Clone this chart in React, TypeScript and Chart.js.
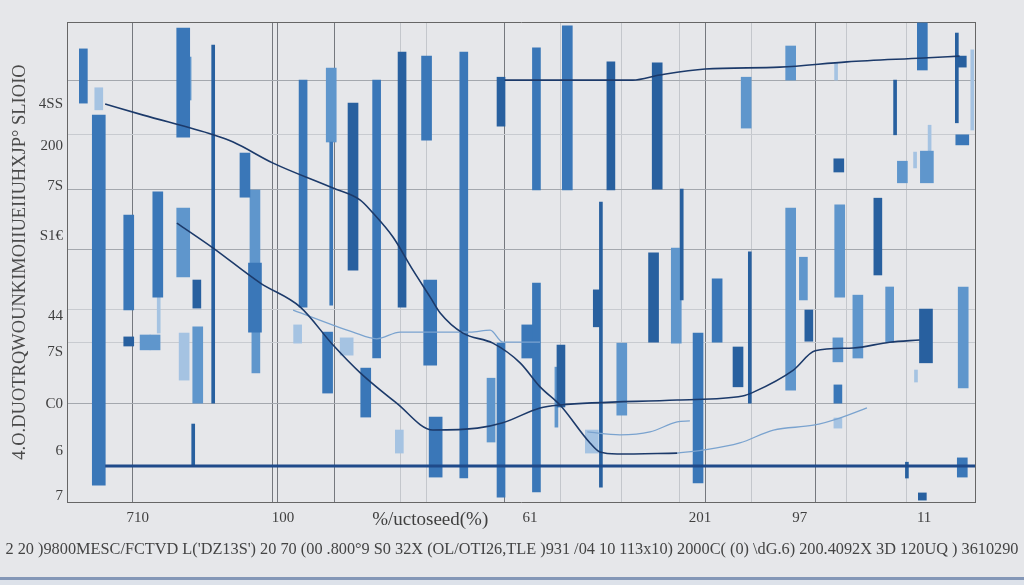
import React, { useEffect, useRef } from "react";
import { Chart, registerables } from "chart.js";

Chart.register(...registerables);

const FONT = "'Liberation Serif', 'DejaVu Serif', serif";

// Axis labels
const xTickValues = [7.8, 23.8, 40.0, 51.0, 69.7, 80.7, 94.4];
const xTickLabels = ["710", "100", "%/uctoseed(%)", "61", "201", "97", "11"];
const yTickValues = [1.25, 10.6, 20.4, 31.25, 38.75, 55.4, 65.8, 74.2, 82.9];
const yTickLabels = ["7", "6", "C0", "7S", "44", "S1€", "7S", "200", "4SS"];
const yTitle = "4.O.DUOTRQWOUNKIMOIIUEIIUHXJP° SLIOIO";
const bottomTitle =
  "2 20 )9800MESC/FCTVD L('DZ13S') 20 70 (00 .800°9 S0 32X (OL/OTI26,TLE )931 /04 10 113x10) 2000C( (0) \\dG.6) 200.4092X 3D 120UQ ) 3610290";

// Grid line positions
const xGridMajor = [7.2, 22.6, 23.2, 29.5, 48.2, 70.3, 82.4];
const xGridMinor = [36.7, 39.6, 54.3, 61.1, 67.5, 75.4, 85.9, 92.5];
const yGridMajor = [20.6, 52.7, 65.2, 87.9];
const yGridMinor = [33.3, 40.2, 76.5];

// Floating bars: [x, low, high]
const darkThin = [[16.1, 20.6, 95.2], [58.8, 3.1, 62.5], [98.0, 79.0, 97.7], [92.5, 5.0, 8.3], [13.9, 7.5, 16.25], [67.7, 42.1, 65.2], [91.2, 76.5, 87.9], [75.2, 20.6, 52.1]];
const darkNarrow = [[14.3, 40.4, 46.25], [36.9, 40.6, 93.75], [47.8, 78.3, 88.5], [59.9, 65.0, 91.7], [54.4, 19.8, 32.7], [81.7, 33.5, 40.0], [89.3, 47.3, 63.3], [98.6, 90.6, 92.9], [94.2, 0.4, 1.9], [58.4, 36.5, 44.2]];
const darkMedium = [[6.8, 32.5, 34.4], [31.5, 48.3, 83.1], [65.0, 65.2, 91.5], [64.6, 33.3, 51.9], [73.9, 24.0, 32.3], [85.0, 68.75, 71.5]];
const darkWide = [[94.6, 29.0, 40.2]];

const midThin = [[29.1, 41.0, 75.0]];
const midNarrow = [[1.8, 83.1, 94.4], [26.0, 40.6, 87.9], [34.1, 30.0, 87.9], [43.7, 5.0, 93.75], [51.7, 65.0, 94.6], [47.8, 1.0, 33.1], [51.7, 2.1, 45.6], [84.9, 20.6, 24.4]];
const midMedium = [[6.8, 40.0, 59.8], [10.0, 42.7, 64.6], [19.6, 63.5, 72.7], [39.6, 75.4, 92.9], [32.9, 17.7, 27.9], [28.7, 22.7, 35.4], [55.1, 65.0, 99.2], [69.5, 4.0, 35.2], [71.6, 33.3, 46.5], [94.2, 90.0, 99.8], [98.6, 5.2, 9.2]];
const midWide = [[3.5, 3.5, 80.6], [12.8, 76.0, 98.75], [20.7, 35.4, 49.8], [40.0, 28.5, 46.25], [40.6, 5.2, 17.7], [50.8, 30.0, 36.9], [98.6, 74.4, 76.5]];

const lightThin = [[13.5, 83.75, 92.7], [53.9, 15.6, 28.1]];
const lightNarrow = [[20.8, 26.9, 35.4], [46.7, 12.5, 25.8], [81.1, 42.1, 51.0], [90.6, 33.3, 44.8]];
const lightMedium = [[8.6, 31.7, 34.8], [9.7, 31.7, 34.8], [14.4, 20.6, 36.5], [20.7, 49.8, 65.0], [29.1, 75.0, 90.4], [74.8, 77.9, 88.5], [79.7, 87.9, 95.0], [61.1, 18.1, 33.1], [67.1, 33.1, 52.9], [79.7, 23.3, 61.25], [85.1, 42.7, 61.9], [87.1, 30.0, 43.1], [84.9, 29.2, 34.2], [92.0, 66.5, 71.0], [98.7, 23.75, 44.8]];
const lightWide = [[12.8, 46.9, 61.25], [94.7, 66.5, 73.1]];

const paleThin = [[10.1, 35.2, 42.7], [93.4, 69.6, 72.9], [95.0, 72.9, 78.5], [93.5, 25.0, 27.5], [84.7, 87.9, 91.5], [99.7, 77.5, 94.2]];
const paleNarrow = [[3.5, 81.7, 86.3], [36.6, 10.2, 15.0], [25.4, 33.1, 36.9], [84.9, 15.4, 17.5]];
const paleMedium = [[12.9, 25.4, 35.2]];
const paleWide = [[30.8, 30.6, 34.2], [57.8, 10.2, 15.0]];

// Lines: [x, y]
const lineA = [[12.1, 58.1], [16.1, 52.9], [21.3, 45.6], [25.7, 40.6], [29.3, 32.7], [32.3, 26.9], [36.3, 20.6], [40.3, 15.0], [45.2, 15.4], [48.0, 16.5], [52.1, 19.6], [54.3, 20.2], [67.2, 21.25], [74.4, 22.1], [75.6, 22.9], [80.0, 27.5], [82.4, 31.5], [86.6, 32.1], [90.6, 33.3], [93.9, 33.75]];
const lineB = [[4.2, 82.9], [8.4, 80.6], [16.1, 76.5], [18.3, 75.0], [22.7, 70.6], [29.3, 65.4], [32.3, 62.9], [33.7, 60.2], [35.9, 55.2], [38.1, 48.3], [40.0, 42.7], [41.1, 39.4], [43.6, 35.2], [46.9, 33.1], [49.9, 29.0], [52.1, 24.0], [54.3, 20.2], [57.6, 12.3], [58.7, 10.4], [60.6, 10.0], [67.2, 10.2]];
const lineC = [[24.9, 40.0], [31.5, 35.4], [34.1, 34.0], [36.7, 35.4], [44.4, 35.4], [46.6, 35.8], [48.0, 33.3], [52.1, 33.3]];
const lineD = [[57.3, 14.6], [60.9, 14.0], [64.2, 14.6], [67.2, 16.7], [68.6, 16.9]];
const lineE = [[67.2, 10.2], [70.0, 10.8], [74.1, 12.3], [77.8, 15.0], [82.2, 16.0], [85.1, 17.5], [88.1, 19.6]];
const lineF = [[48.2, 87.9], [62.3, 87.9], [65.3, 88.96], [70.3, 90.2], [78.5, 90.6], [85.9, 91.7], [94.3, 92.5], [98.3, 92.9]];
const lineG = [[4.2, 7.5], [100, 7.5]];

const NAVY = "#1c3a6a";
const LIGHTLINE = "#7aa3cf";
const DARK = "#28609f";
const MID = "#3a77b8";
const LIGHT = "#5f96cc";
const PALE = "#a5c3e2";

function barSet(rows: number[][], color: string, thickness: number) {
  return {
    type: "bar" as const,
    data: rows.map(([x, lo, hi]) => ({ x, y: [lo, hi] })),
    backgroundColor: color,
    barThickness: thickness,
    grouped: false,
    borderWidth: 0,
  };
}

function lineSet(rows: number[][], color: string, width: number) {
  return {
    type: "line" as const,
    data: rows.map(([x, y]) => ({ x, y })),
    borderColor: color,
    borderWidth: width,
    pointRadius: 0,
    fill: false,
    cubicInterpolationMode: "monotone" as const,
  };
}

export default function App() {
  const ref = useRef<HTMLCanvasElement | null>(null);

  useEffect(() => {
    document.body.style.margin = "0";
    document.body.style.background = "#e6e7ea";
    if (!ref.current) return;
    const datasets: any[] = [
      lineSet(lineG, "#1f4a8a", 3),
      lineSet(lineA, NAVY, 1.6),
      lineSet(lineB, NAVY, 1.6),
      lineSet(lineF, NAVY, 1.6),
      lineSet(lineC, LIGHTLINE, 1.3),
      lineSet(lineD, LIGHTLINE, 1.3),
      lineSet(lineE, LIGHTLINE, 1.3),
      barSet(darkThin, DARK, 3),
      barSet(darkNarrow, DARK, 8),
      barSet(darkMedium, DARK, 10),
      barSet(darkWide, DARK, 13),
      barSet(midThin, MID, 3),
      barSet(midNarrow, MID, 8),
      barSet(midMedium, MID, 10),
      barSet(midWide, MID, 13),
      barSet(lightThin, LIGHT, 3),
      barSet(lightNarrow, LIGHT, 8),
      barSet(lightMedium, LIGHT, 10),
      barSet(lightWide, LIGHT, 13),
      barSet(paleThin, PALE, 3),
      barSet(paleNarrow, PALE, 8),
      barSet(paleMedium, PALE, 10),
      barSet(paleWide, PALE, 13),
    ];
    const xGridAll = [...xGridMajor, ...xGridMinor].sort((a, b) => a - b);
    const yGridAll = [...yGridMajor, ...yGridMinor].sort((a, b) => a - b);

    const chart = new Chart(ref.current, {
      type: "bar",
      data: { datasets },
      options: {
        animation: false,
        responsive: false,
        devicePixelRatio: 1,
        layout: { padding: { top: 22, right: 0, left: 0, bottom: 0 } },
        plugins: {
          legend: { display: false },
          tooltip: { enabled: false },
          title: {
            display: true,
            position: "bottom",
            text: bottomTitle,
            color: "#444",
            font: { family: FONT, size: 16.3, weight: "normal", lineHeight: 1.2 },
            padding: { top: 0, bottom: 25.2 },
          },
        },
        scales: {
          x: {
            type: "linear",
            position: "bottom",
            min: 0,
            max: 100,
            offset: false,
            afterBuildTicks: (a: any) => {
              a.ticks = xTickValues.map((v) => ({ value: v }));
            },
            afterFit: (a: any) => {
              a.height = 38.2;
            },
            ticks: {
              autoSkip: false,
              maxRotation: 0,
              padding: 7,
              color: "#3f3f3f",
              font: (ctx: any) =>
                ctx.index === 2 ? { family: FONT, size: 19 } : { family: FONT, size: 15 },
              callback: (_v: any, i: number) => xTickLabels[i],
            },
            grid: { display: false, drawTicks: false, offset: false },
            border: { display: true, color: "#666", width: 1 },
          },
          y: {
            type: "linear",
            position: "left",
            min: 0,
            max: 100,
            afterBuildTicks: (a: any) => {
              a.ticks = yTickValues.map((v) => ({ value: v }));
            },
            afterFit: (a: any) => {
              a.width = 67;
            },
            ticks: {
              autoSkip: false,
              padding: 4,
              color: "#3f3f3f",
              font: { family: FONT, size: 15 },
              callback: (_v: any, i: number) => yTickLabels[i],
            },
            grid: { display: false, drawTicks: false },
            border: { display: true, color: "#666", width: 1 },
            title: {
              display: true,
              text: yTitle,
              color: "#4a4a4a",
              font: { family: FONT, size: 18.5, lineHeight: 1.2 },
              padding: { top: 9, bottom: 0 },
            },
          },
          xg: {
            type: "linear",
            position: "top",
            min: 0,
            max: 100,
            offset: false,
            afterBuildTicks: (a: any) => {
              a.ticks = xGridAll.map((v) => ({ value: v }));
            },
            afterFit: (a: any) => {
              a.height = 0;
            },
            ticks: { display: false },
            grid: {
              drawTicks: false,
              offset: false,
              color: (ctx: any) =>
                ctx.tick && xGridMajor.includes(ctx.tick.value) ? "#75787e" : "#c4c7cc",
              lineWidth: 1,
            },
            border: { display: true, color: "#666", width: 1 },
          },
          yg: {
            type: "linear",
            position: "right",
            min: 0,
            max: 100,
            afterBuildTicks: (a: any) => {
              a.ticks = yGridAll.map((v) => ({ value: v }));
            },
            afterFit: (a: any) => {
              a.width = 49;
            },
            ticks: { display: false },
            grid: {
              drawTicks: false,
              color: (ctx: any) =>
                ctx.tick && yGridMajor.includes(ctx.tick.value) ? "#a4a8ae" : "#c8cbd0",
              lineWidth: 1,
            },
            border: { display: true, color: "#666", width: 1 },
          },
        },
      } as any,
    });
    return () => chart.destroy();
  }, []);

  return (
    <div style={{ position: "relative", width: 1024, height: 585, background: "#e6e7ea", overflow: "hidden" }}>
      <canvas ref={ref} width={1024} height={585} style={{ display: "block" }} />
      <div style={{ position: "absolute", left: 0, top: 577, width: 1024, height: 3, background: "#8497b7" }} />
      <div style={{ position: "absolute", left: 0, top: 580, width: 1024, height: 5, background: "#dde2ea" }} />
    </div>
  );
}
